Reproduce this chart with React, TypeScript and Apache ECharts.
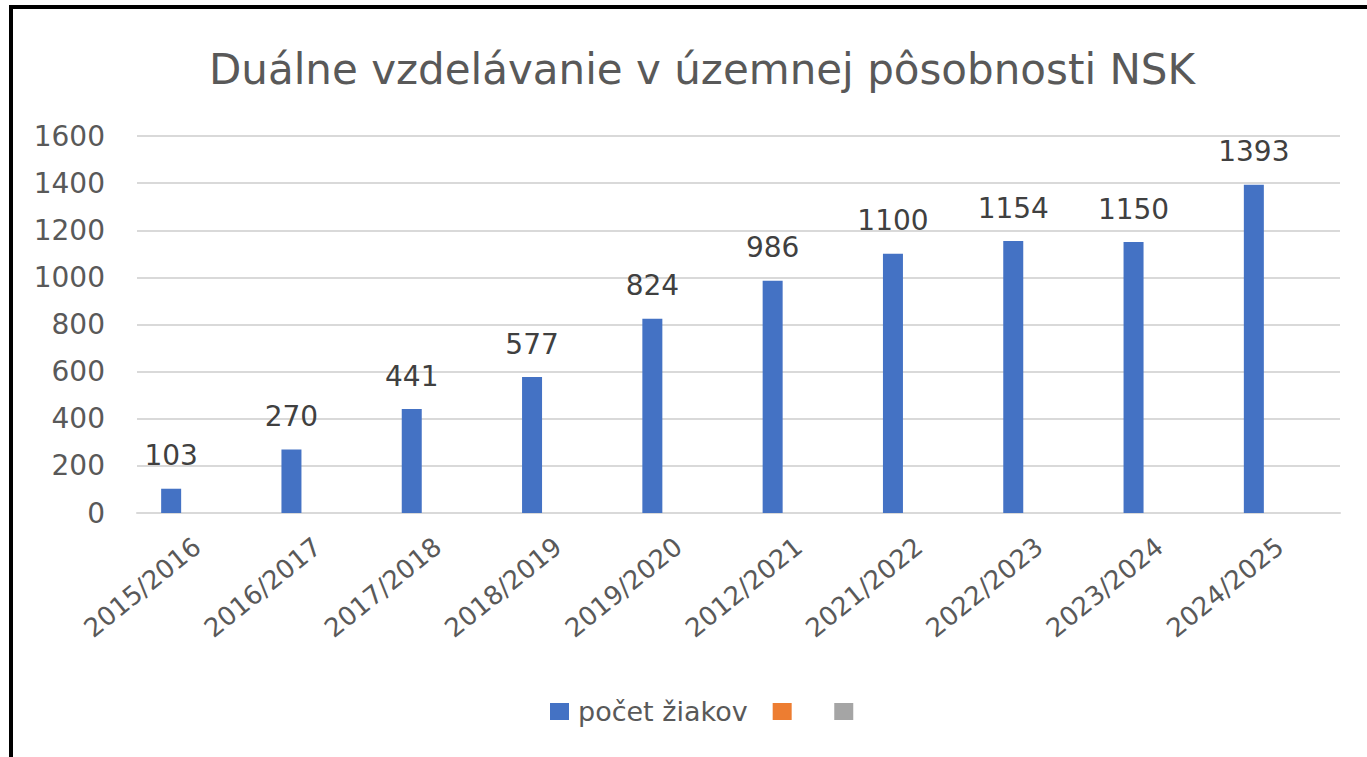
import React, { useEffect, useRef } from "react";
import * as echarts from "echarts";

const categories = [
  "2015/2016",
  "2016/2017",
  "2017/2018",
  "2018/2019",
  "2019/2020",
  "2012/2021",
  "2021/2022",
  "2022/2023",
  "2023/2024",
  "2024/2025",
];
const pocetZiakov = [103, 270, 441, 577, 824, 986, 1100, 1154, 1150, 1393];
const emptySeries2: (number | null)[] = categories.map(() => null);
const emptySeries3: (number | null)[] = categories.map(() => null);
const seriesNames = ["počet žiakov", "Rad2", "Rad3"];

const FONT = "'DejaVu Sans', 'Open Sans', sans-serif";
const TEXT = "#595959";

export default function App() {
  const ref = useRef<HTMLDivElement>(null);
  useEffect(() => {
    if (!ref.current) return;
    const chart = echarts.init(ref.current, undefined, { renderer: "svg" });
    chart.setOption({
      animation: false,
      backgroundColor: "#ffffff",
      title: {
        text: "Duálne vzdelávanie v územnej pôsobnosti NSK",
        left: 697,
        top: 43,
        textAlign: "center",
        textStyle: { fontFamily: FONT, fontSize: 42, fontWeight: "normal", color: TEXT },
      },
      graphic: [
        {
          type: "rect",
          shape: { x: 11, y: 7, width: 1400, height: 800 },
          style: { fill: "none", stroke: "#000000", lineWidth: 4 },
          silent: true,
        },
      ],
      legend: {
        bottom: 27,
        left: 545,
        itemWidth: 19,
        itemHeight: 17,
        itemGap: 25,
        icon: "rect",
        data: seriesNames,
        formatter: (n: string) => (n === seriesNames[0] ? n : " "),
        textStyle: { fontFamily: FONT, fontSize: 27, color: TEXT, padding: [0, 0, 0, 4] },
      },
      grid: { left: 137, right: 27, top: 136, bottom: 244, containLabel: false },
      xAxis: {
        type: "category",
        data: categories,
        axisLine: { show: true, lineStyle: { color: "#d9d9d9", width: 2 } },
        axisTick: { show: false },
        axisLabel: {
          rotate: 39,
          margin: 30,
          interval: 0,
          fontFamily: FONT,
          fontSize: 26,
          color: TEXT,
        },
      },
      yAxis: {
        type: "value",
        min: 0,
        max: 1600,
        interval: 200,
        axisLine: { show: false },
        axisTick: { show: false },
        splitLine: { lineStyle: { color: "#d9d9d9", width: 2 } },
        axisLabel: {
          margin: 32,
          fontFamily: FONT,
          fontSize: 28,
          color: TEXT,
          formatter: (v: number) => String(v),
        },
      },
      series: [
        {
          name: seriesNames[0],
          type: "bar",
          data: pocetZiakov,
          barWidth: 20,
          barGap: "30%",
          itemStyle: { color: "#4472c4" },
          label: {
            show: true,
            position: "top",
            distance: 19,
            fontFamily: FONT,
            fontSize: 28,
            color: "#404040",
          },
        },
        {
          name: seriesNames[1],
          type: "bar",
          data: emptySeries2,
          barWidth: 20,
          barGap: "30%",
          itemStyle: { color: "#ed7d31" },
        },
        {
          name: seriesNames[2],
          type: "bar",
          data: emptySeries3,
          barWidth: 20,
          barGap: "30%",
          itemStyle: { color: "#a5a5a5" },
        },
      ],
    });
    return () => chart.dispose();
  }, []);
  return (
    <div
      ref={ref}
      style={{ position: "absolute", left: 0, top: 0, width: 1367, height: 757 }}
    />
  );
}
